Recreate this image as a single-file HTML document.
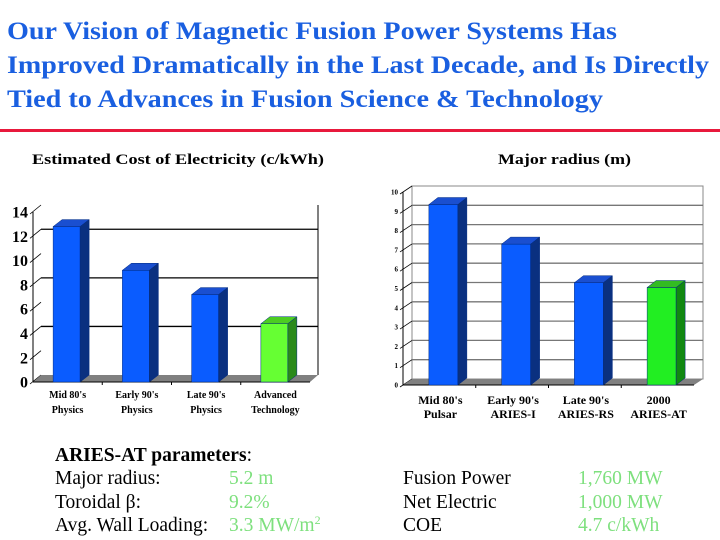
<!DOCTYPE html>
<html><head><meta charset="utf-8"><style>
html,body{margin:0;padding:0;background:#fff;}
svg{display:block;}
</style></head><body>
<svg id="s" width="720" height="540" viewBox="0 0 720 540" xmlns="http://www.w3.org/2000/svg">
<g font-family="Liberation Serif, serif" font-weight="bold" fill="#1a5fe0" font-size="25">
<text x="7" y="39" textLength="610" lengthAdjust="spacingAndGlyphs">Our Vision of Magnetic Fusion Power Systems Has</text>
<text x="7" y="73" textLength="702" lengthAdjust="spacingAndGlyphs">Improved Dramatically in the Last Decade, and Is Directly</text>
<text x="7" y="107" textLength="596" lengthAdjust="spacingAndGlyphs">Tied to Advances in Fusion Science &amp; Technology</text>
</g>
<rect x="0" y="129" width="720" height="3" fill="#e8193c"/>
<text x="32" y="164" font-family="Liberation Serif, serif" font-weight="bold" font-size="15" textLength="292" lengthAdjust="spacingAndGlyphs">Estimated Cost of  Electricity (c/kWh)</text>
<text x="498" y="164" font-family="Liberation Serif, serif" font-weight="bold" font-size="15" textLength="133" lengthAdjust="spacingAndGlyphs">Major radius (m)</text>
<g id="left"></g>
<g id="right"></g>
<g font-family="Liberation Serif, serif" font-size="19.5">
<text x="55" y="461" font-weight="bold">ARIES-AT parameters<tspan font-weight="normal">:</tspan></text>
<text x="55" y="484">Major radius:</text>
<text x="55" y="508">Toroidal β:</text>
<text x="55" y="531">Avg. Wall Loading:</text>
<g fill="#7ee07e">
<text x="229" y="484">5.2 m</text>
<text x="229" y="508">9.2%</text>
<text x="229" y="531">3.3 MW/m<tspan font-size="12" dy="-7">2</tspan></text>
<text x="578" y="484">1,760 MW</text>
<text x="578" y="508">1,000 MW</text>
<text x="578" y="531">4.7 c/kWh</text>
</g>
<text x="403" y="484">Fusion Power</text>
<text x="403" y="508">Net Electric</text>
<text x="403" y="531">COE</text>
</g>
</svg>
<script>
const costCategories1 = ["Mid 80's", "Early 90's", "Late 90's", "Advanced"];
const costCategories2 = ["Physics", "Physics", "Physics", "Technology"];
const costValues = [12.8, 9.2, 7.2, 4.8];
const costTicks = [0, 2, 4, 6, 8, 10, 12, 14];
const radiusCategories1 = ["Mid 80's", "Early 90's", "Late 90's", "2000"];
const radiusCategories2 = ["Pulsar", "ARIES-I", "ARIES-RS", "ARIES-AT"];
const radiusValues = [9.35, 7.3, 5.3, 5.05];
const radiusTicks = [0, 1, 2, 3, 4, 5, 6, 7, 8, 9, 10];

const NS = "http://www.w3.org/2000/svg";
function mk(parent, tag, attrs, text) {
  const e = document.createElementNS(NS, tag);
  for (const k in attrs) e.setAttribute(k, attrs[k]);
  if (text !== undefined) e.textContent = text;
  parent.appendChild(e);
  return e;
}
function drawChart(g, cfg) {
  const y = v => cfg.y0 - (v - 0) * (cfg.y0 - cfg.yTop) / cfg.max;
  const dx = cfg.dx, dy = cfg.dy;
  if (cfg.wallStroke) {
    const wall = mk(g, "rect", {x: cfg.x0 + dx, y: y(cfg.max) + dy, width: cfg.x1 - cfg.x0 - dx, height: cfg.y0 - y(cfg.max), fill: "#fff", stroke: cfg.wallStroke, "stroke-width": 1});
    
    
  } else {
    const wr = mk(g, "line", {x1: cfg.x1, x2: cfg.x1, y1: y(cfg.max) + dy, y2: cfg.y0 + dy, stroke: "#000", "stroke-width": 1});
    
    
  }
  cfg.ticks.forEach(t => {
    if (cfg.gridEvery && t > 0 && t < cfg.max && (t % cfg.gridEvery === 0)) {
      const gl = mk(g, "line", {x1: cfg.x0 + dx, x2: cfg.x1, y1: y(t) + dy, y2: y(t) + dy, stroke: cfg.gridColor, "stroke-width": 1.3});
      
      
    }
    const tk = mk(g, "line", {x1: cfg.x0 - 3, x2: cfg.x0 + dx, y1: y(t) + 2, y2: y(t) + dy, stroke: "#000", "stroke-width": 0.8});
    
    
    const tl = mk(g, "text", {x: cfg.x0 - 5, y: y(t) + cfg.tickFs * 0.35, "text-anchor": "end", "font-size": cfg.tickFs, "font-weight": "bold", "font-family": "Liberation Serif, serif"}, String(t));
    
    
  });
  const floor = mk(g, "polygon", {points: `${cfg.x0},${cfg.y0} ${cfg.x0 + dx},${cfg.y0 + dy} ${cfg.x1},${cfg.y0 + dy} ${cfg.x1 - dx},${cfg.y0}`, fill: "#808080"});
  
  
  mk(g, "line", {x1: cfg.x0, x2: cfg.x0, y1: cfg.y0, y2: y(cfg.max), stroke: "#000", "stroke-width": 1});
  mk(g, "line", {x1: cfg.x0, x2: cfg.x1 - dx, y1: cfg.y0, y2: cfg.y0, stroke: "#000", "stroke-width": 1});
  const n = cfg.values.length, slot = (cfg.x1 - dx - cfg.x0) / n;
  cfg.values.forEach((v, i) => {
    const cx = cfg.x0 + slot * (i + 0.5);
    const x = cx - cfg.bw / 2 + cfg.shift, top = y(v), w = cfg.bw, bd = cfg.bdx, bdy = cfg.bdy;
    const col = i === n - 1 ? cfg.green : cfg.blue;
    const bar = mk(g, "g", {});
    
    
    mk(bar, "rect", {x: x, y: top, width: w, height: cfg.y0 - top, fill: col[0], stroke: "#002a80", "stroke-width": 0.5});
    mk(bar, "polygon", {points: `${x},${top} ${x + bd},${top + bdy} ${x + w + bd},${top + bdy} ${x + w},${top}`, fill: col[1], stroke: "#002a80", "stroke-width": 0.5});
    mk(bar, "polygon", {points: `${x + w},${top} ${x + w + bd},${top + bdy} ${x + w + bd},${cfg.y0 + bdy} ${x + w},${cfg.y0}`, fill: col[2], stroke: "#002a80", "stroke-width": 0.5});
    if (i > 0) mk(g, "line", {x1: cfg.x0 + slot * i, x2: cfg.x0 + slot * i, y1: cfg.y0, y2: cfg.y0 + 3, stroke: "#000"});
    const l1 = mk(g, "text", {x: cx + cfg.labShift, y: cfg.lab1, "text-anchor": "middle", "font-size": cfg.labFs, "font-weight": "bold", "font-family": "Liberation Serif, serif"}, cfg.cat1[i]);
    
    
    const l2 = mk(g, "text", {x: cx + cfg.labShift, y: cfg.lab2, "text-anchor": "middle", "font-size": cfg.labFs, "font-weight": "bold", "font-family": "Liberation Serif, serif"}, cfg.cat2[i]);
    
    
  });
}
drawChart(document.getElementById("left"), {
  x0: 33, x1: 318, y0: 382, yTop: 212, max: 14, dx: 8, dy: -7, ticks: costTicks, gridEvery: 4,
  gridColor: "#000", wallStroke: null, tickFs: 16, values: costValues, bw: 27, bdx: 9, bdy: -7, shift: -1, labShift: 0,
  blue: ["#0a5cff", "#1a4fd0", "#0a3080"], green: ["#66ff33", "#4ccc22", "#2a8a1a"],
  cat1: costCategories1, cat2: costCategories2, lab1: 398, lab2: 413, labFs: 10
});
drawChart(document.getElementById("right"), {
  x0: 403, x1: 703, y0: 385, yTop: 192, max: 10, dx: 9, dy: -6, ticks: radiusTicks, gridEvery: 1,
  gridColor: "#777", wallStroke: "#888", tickFs: 7, values: radiusValues, bw: 29, bdx: 9, bdy: -7, shift: 4, labShift: 1,
  blue: ["#0a5cff", "#1a4fd0", "#0a3080"], green: ["#22ee22", "#33bb22", "#118811"],
  cat1: radiusCategories1, cat2: radiusCategories2, lab1: 404, lab2: 418, labFs: 12
});
</script>
</body></html>
